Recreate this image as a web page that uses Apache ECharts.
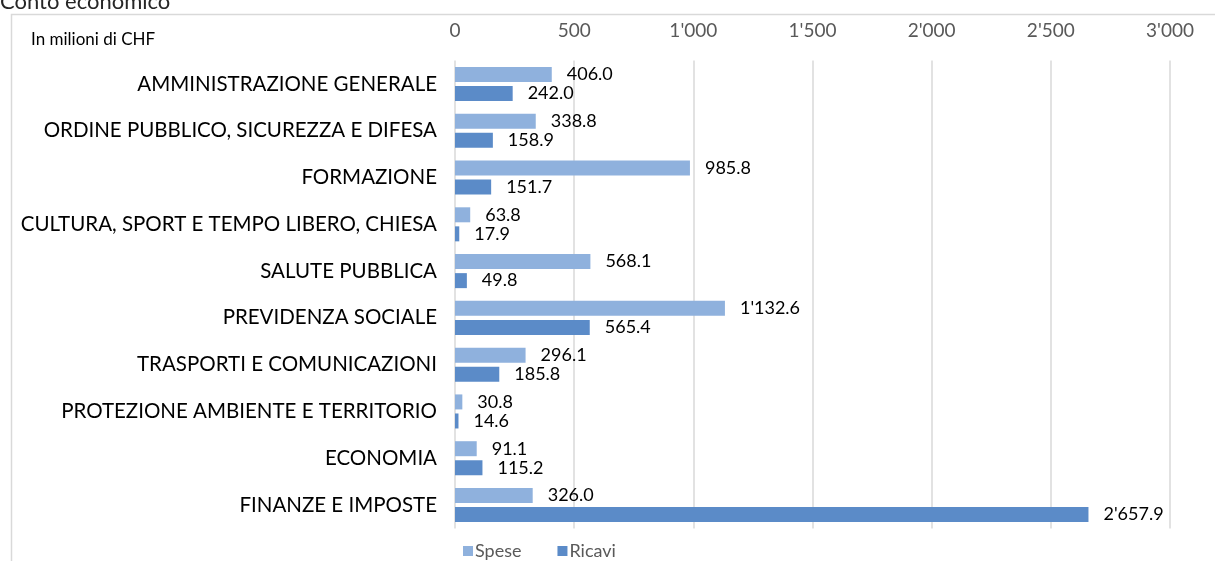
<!DOCTYPE html>
<html>
<head>
<meta charset="utf-8">
<script src="https://cdn.jsdelivr.net/npm/echarts@6/dist/echarts.min.js"></script>
<style>
html,body{margin:0;padding:0;background:#fff;}
#c{width:1215px;height:561px;}
</style>
</head>
<body>
<div id="c"></div>
<script>
var categories = [
  "AMMINISTRAZIONE GENERALE",
  "ORDINE PUBBLICO, SICUREZZA E DIFESA",
  "FORMAZIONE",
  "CULTURA, SPORT E TEMPO LIBERO, CHIESA",
  "SALUTE PUBBLICA",
  "PREVIDENZA SOCIALE",
  "TRASPORTI E COMUNICAZIONI",
  "PROTEZIONE AMBIENTE E TERRITORIO",
  "ECONOMIA",
  "FINANZE E IMPOSTE"
];
var spese = [406.0, 338.8, 985.8, 63.8, 568.1, 1132.6, 296.1, 30.8, 91.1, 326.0];
var ricavi = [242.0, 158.9, 151.7, 17.9, 49.8, 565.4, 185.8, 14.6, 115.2, 2657.9];
var seriesNames = ["Spese", "Ricavi"];
var axisMin = 0, axisMax = 3000, axisInterval = 500;

function fmtThousands(s) {
  return s.replace(/\B(?=(\d{3})+(?!\d))/g, "'");
}
function fmtLabel(v) {
  var parts = v.toFixed(1).split('.');
  return fmtThousands(parts[0]) + '.' + parts[1];
}
var FONT = 'Lato';
var chart = echarts.init(document.getElementById('c'));
chart.setOption({
  animation: false,
  textStyle: { fontFamily: FONT },
  grid: { left: 455, right: 45, top: 60.6, bottom: 32.6, containLabel: false },
  graphic: [
    { type: 'rect', shape: { x: 11.5, y: 14.5, width: 1300, height: 700 },
      style: { fill: 'none', stroke: '#d9d9d9', lineWidth: 1.5 }, silent: true, z: -10 },
    { type: 'text', left: 0, top: -9,
      style: { text: 'Conto economico', font: '22px ' + FONT, fill: '#262626' } },
    { type: 'text', left: 31, top: 31,
      style: { text: 'In milioni di CHF', font: '17px ' + FONT, fill: '#000' } }
  ],
  legend: {
    data: seriesNames, left: 458, top: 537, icon: 'rect', itemWidth: 10, itemHeight: 10, itemGap: 36,
    textStyle: { color: '#595959', fontSize: 18, fontFamily: FONT, padding: [0, 0, 0, -3] }
  },
  xAxis: {
    type: 'value', position: 'top', min: axisMin, max: axisMax, interval: axisInterval,
    axisLine: { show: false }, axisTick: { show: false },
    axisLabel: { color: '#595959', fontSize: 19, margin: 20, formatter: function (v) { return fmtThousands(String(v)); } },
    splitLine: { show: true, lineStyle: { color: '#d9d9d9', width: 1.5 } }
  },
  yAxis: {
    type: 'category', data: categories, inverse: true,
    axisLine: { show: false }, axisTick: { show: false },
    axisLabel: { color: '#000', fontSize: 20.5, margin: 18 }
  },
  series: [
    { name: seriesNames[0], type: 'bar', data: spese, barWidth: 15, barGap: '27%',
      itemStyle: { color: '#8fb1dd' },
      label: { show: true, position: 'right', distance: 15, color: '#000', fontSize: 18, formatter: function (p) { return fmtLabel(p.value); } } },
    { name: seriesNames[1], type: 'bar', data: ricavi, barWidth: 15, barGap: '27%',
      itemStyle: { color: '#5b8bc8' },
      label: { show: true, position: 'right', distance: 15, color: '#000', fontSize: 18, formatter: function (p) { return fmtLabel(p.value); } } }
  ]
});
</script>
</body>
</html>
